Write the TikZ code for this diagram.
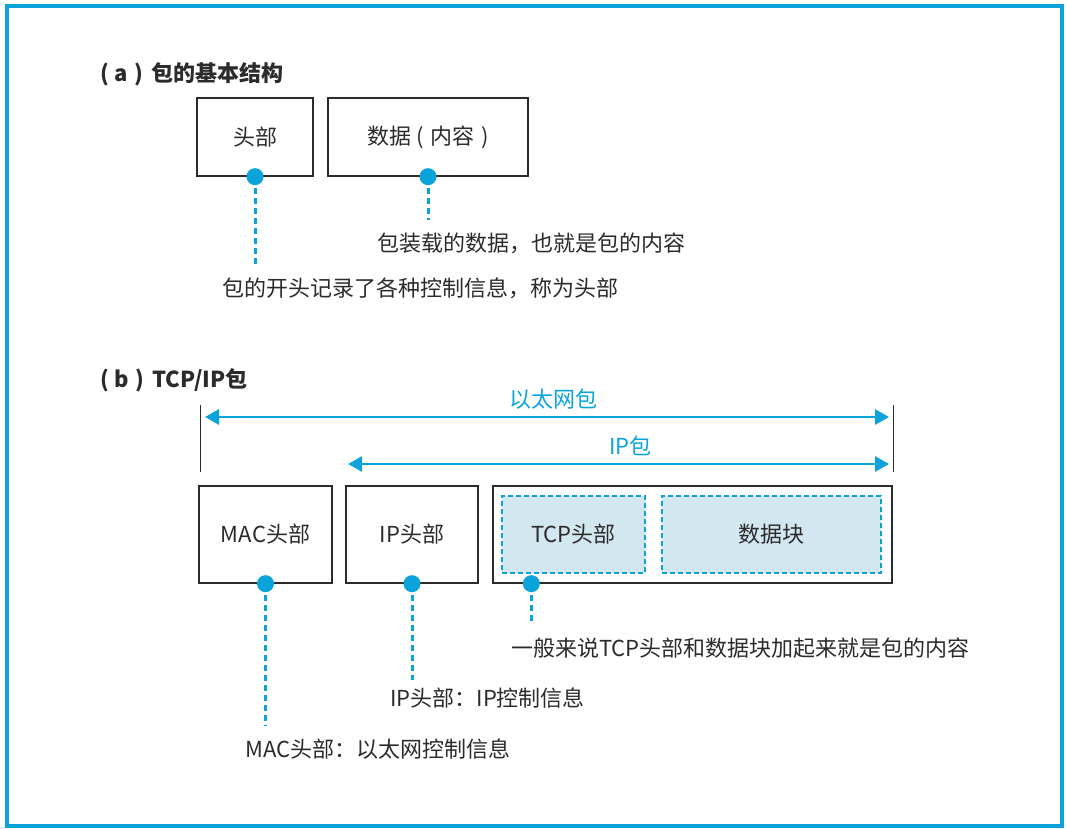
\documentclass[tikz,border=0pt]{standalone}
\usepackage{fontspec}
\setmainfont{Noto Sans CJK SC}
\usetikzlibrary{arrows.meta,positioning,calc}
\definecolor{pktblue}{HTML}{0BA3D9}
\definecolor{partfill}{HTML}{D3E7F1}
\definecolor{inkgray}{HTML}{2B2B2B}

\begin{document}
\begin{tikzpicture}[x=1pt, y=-1pt, font=\fontsize{22}{26}\selectfont, text=inkgray,
  box/.style={draw=inkgray, line width=1.3pt, inner sep=0},
  part/.style={draw=pktblue, fill=partfill, line width=1.1pt, dash pattern=on 5pt off 3pt,
               inner sep=0, minimum height=77pt},
  dot/.style={circle, fill=pktblue, inner sep=0, minimum size=17pt},
  lead/.style={draw=pktblue, line width=3pt, dash pattern=on 6pt off 4pt, shorten <=3pt},
  dim/.style={{Triangle[length=14pt,width=15pt]}-{Triangle[length=14pt,width=15pt]},
              draw=pktblue, line width=2.8pt},
  note/.style={anchor=west, inner sep=0, text height=18pt, text depth=3pt,
              font=\fontsize{22}{26}\selectfont},
  lbl/.style={inner sep=0, text height=18pt, text depth=3pt, text=pktblue}]
\useasboundingbox (0,0) rectangle (1068,828);
\draw[pktblue, line width=3.5pt] (7,6) rectangle (1062,826);

% (a) basic structure
\node[anchor=west, inner sep=0, text height=18pt, text depth=3pt] (ta) at (100,74)
  {\textbf{(\hspace{6pt}a\hspace{6pt})\hspace{8pt}包的基本结构}};
\node[box, minimum width=116pt, minimum height=78pt] (hdr) at (255,137) {头部};
\node[box, minimum width=200pt, minimum height=78pt] (body) at (428,137)
  {数据\hspace{5pt}(\hspace{7pt}内容\hspace{7pt})};
\node[dot] (d1) at (hdr.south) {};
\node[dot] (d2) at (body.south) {};
\node[note] (c2) at (377,244) {包装载的数据，也就是包的内容};
\node[note] (c1) at (222,289) {包的开头记录了各种控制信息，称为头部};
\draw[lead, shorten >=11pt] (d1) -- (d1 |- c1.north);
\draw[lead, shorten >=13pt] (d2) -- (d2 |- c2.north);

% (b) TCP/IP packet
\node[anchor=west, inner sep=0, text height=18pt, text depth=3pt] (tb) at (100,380)
  {\textbf{(\hspace{6pt}b\hspace{6pt})\hspace{8pt}TCP/IP包}};
\coordinate (eL) at (200,417);
\coordinate (eR) at (893,417);
\coordinate (iL) at (346,464);
\coordinate (iR) at (893,464);
\draw[inkgray, line width=1pt] (200,405) coordinate (tl) -- (200,472);
\draw[inkgray, line width=1pt] (893,405) coordinate (tr) -- (893,472);
\draw[dim, shorten <=5pt, shorten >=4pt] (eL) -- (eR)
  node[lbl, pos=0.51, above=5pt] (eth) {以太网包};
\draw[dim, shorten <=2pt, shorten >=4pt] (iL) -- (iR)
  node[lbl, pos=0.52, above=5pt] (ipp) {IP包};

\node[box, minimum width=133pt, minimum height=97pt] (mac) at (265.5,534.5) {MAC头部};
\node[box, minimum width=132pt, minimum height=97pt] (iph) at (412,534.5) {IP头部};
\node[box, minimum width=399pt, minimum height=97pt] (load) at (692.5,534.5) {};
\node[part, minimum width=143pt] (tcp) at (573.5,534.5) {TCP头部};
\node[part, minimum width=219pt] (chunk) at (771.5,534.5) {数据块};

\node[dot] (d3) at (mac.south) {};
\node[dot] (d4) at (iph.south) {};
\node[dot] (d5) at ($(load.south west)+(39,0)$) {};
\node[note] (c5) at (511,649) {一般来说TCP头部和数据块加起来就是包的内容};
\node[note] (c4) at (390,699) {IP头部：IP控制信息};
\node[note] (c3) at (245,750) {MAC头部：以太网控制信息};
\draw[lead, shorten >=13pt] (d3) -- (d3 |- c3.north);
\draw[lead, shorten >=8pt] (d4) -- (d4 |- c4.north);
\draw[lead, shorten >=13pt] (d5) -- (d5 |- c5.north);
\end{tikzpicture}
\end{document}
